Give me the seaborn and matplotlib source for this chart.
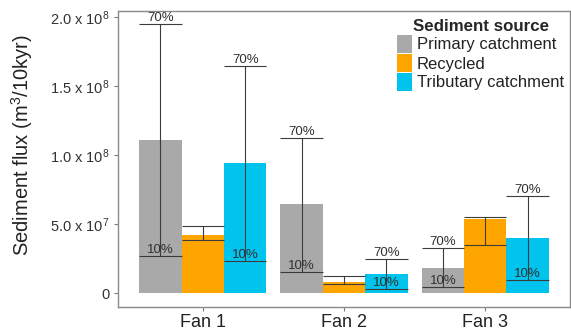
import matplotlib
matplotlib.use("Agg")
import matplotlib.pyplot as plt
import numpy as np
import pandas as pd
import seaborn as sns
from matplotlib.ticker import FixedLocator, FuncFormatter

# Sediment flux per fan and source (m^3 / 10 kyr)
fans = ["Fan 1", "Fan 2", "Fan 3"]
sources = ["Primary catchment", "Recycled", "Tributary catchment"]
flux_primary = [1.113e8, 0.645e8, 0.186e8]
flux_recycled = [0.422e8, 0.084e8, 0.538e8]
flux_tributary = [0.942e8, 0.140e8, 0.403e8]
# lower (10%) and upper (70%) bounds
low_primary = [0.272e8, 0.157e8, 0.043e8]
high_primary = [1.951e8, 1.128e8, 0.326e8]
low_recycled = [0.386e8, 0.067e8, 0.350e8]
high_recycled = [0.485e8, 0.123e8, 0.555e8]
low_tributary = [0.232e8, 0.031e8, 0.096e8]
high_tributary = [1.649e8, 0.251e8, 0.705e8]
yticks = [0, 5e7, 1e8, 1.5e8, 2e8]
palette = ["#A9A9A9", "#FFA500", "#00C4EE"]

df = pd.DataFrame({
    "fan": fans * 3,
    "source": np.repeat(sources, 3),
    "flux": flux_primary + flux_recycled + flux_tributary,
    "low": low_primary + low_recycled + low_tributary,
    "high": high_primary + high_recycled + high_tributary,
})

sns.set_theme(style="white")
plt.rcParams["font.family"] = ["Liberation Sans", "DejaVu Sans"]
plt.rcParams["mathtext.fontset"] = "custom"
plt.rcParams["mathtext.rm"] = "Liberation Sans"
plt.rcParams["mathtext.it"] = "Liberation Sans"
plt.rcParams["mathtext.default"] = "regular"

fig = plt.figure(figsize=(5.71, 3.31), dpi=100)
ax = fig.add_axes([0.2067, 0.0734, 0.7915, 0.8943])

sns.barplot(data=df, x="fan", y="flux", hue="source", order=fans,
            hue_order=sources, palette=palette, width=0.9, gap=0,
            saturation=1, errorbar=None, ax=ax, legend=True)

err_color = "#3c3c3c"
label_color = "#303030"
for container, src in zip(ax.containers, sources):
    sub = df[df["source"] == src].set_index("fan").loc[fans]
    for bar, (_, row) in zip(container.patches, sub.iterrows()):
        bar.set_edgecolor("none")
        x0 = bar.get_x()
        x1 = x0 + bar.get_width()
        xc = x0 + bar.get_width() / 2
        ax.vlines(xc, row["low"], row["high"], color=err_color, lw=0.8, zorder=3)
        ax.hlines([row["low"], row["high"]], x0, x1, color=err_color, lw=0.8, zorder=3)
        if src != "Recycled":
            ax.text(xc, row["high"], "70%", ha="center", va="bottom",
                    fontsize=9.5, color=label_color, zorder=4)
            ax.text(xc, row["low"], "10%", ha="center", va="bottom",
                    fontsize=9.5, color=label_color, zorder=4)

ax.set_xlim(-0.6, 2.6)
ax.set_ylim(-0.0975e8, 2.0475e8)


def sci_fmt(v, pos):
    if v == 0:
        return "0"
    exp = int(np.floor(np.log10(v)))
    mant = v / 10 ** exp
    return f"{mant:.1f} x 10$^{{{exp}}}$"


ax.yaxis.set_major_locator(FixedLocator(yticks))
ax.yaxis.set_major_formatter(FuncFormatter(sci_fmt))
ax.tick_params(axis="y", labelsize=10.5, colors="#333333", length=3, width=0.8,
               left=True, pad=3)
ax.tick_params(axis="x", labelsize=13, colors="#222222", length=3, width=0.8,
               bottom=True, pad=2)
ax.tick_params(axis="both", color="#7a7a7a")

ax.set_xlabel("")
ax.set_ylabel("Sediment flux (m$^3$/10kyr)", fontsize=14.5, color="#222222")
ax.yaxis.set_label_coords(-0.184, 0.545)

for sp in ax.spines.values():
    sp.set_visible(True)
    sp.set_color("#8a8a8a")
    sp.set_linewidth(1.0)

handles, labels = ax.get_legend_handles_labels()
ax.legend_.remove()
leg = fig.legend(handles, labels, title="Sediment source", loc="upper left",
                 bbox_to_anchor=(397 / 571, 1 - 19 / 331),
                 bbox_transform=fig.transFigure, frameon=False,
                 fontsize=12, title_fontproperties={"weight": "bold", "size": 12.2},
                 borderpad=0, handlelength=0.9, handleheight=1.3,
                 handletextpad=0.3, labelspacing=0.05, borderaxespad=0)
for h in leg.legend_handles:
    h.set_edgecolor("none")
for t in leg.get_texts():
    t.set_color("#222222")

fig.savefig("out.png", dpi=100)
